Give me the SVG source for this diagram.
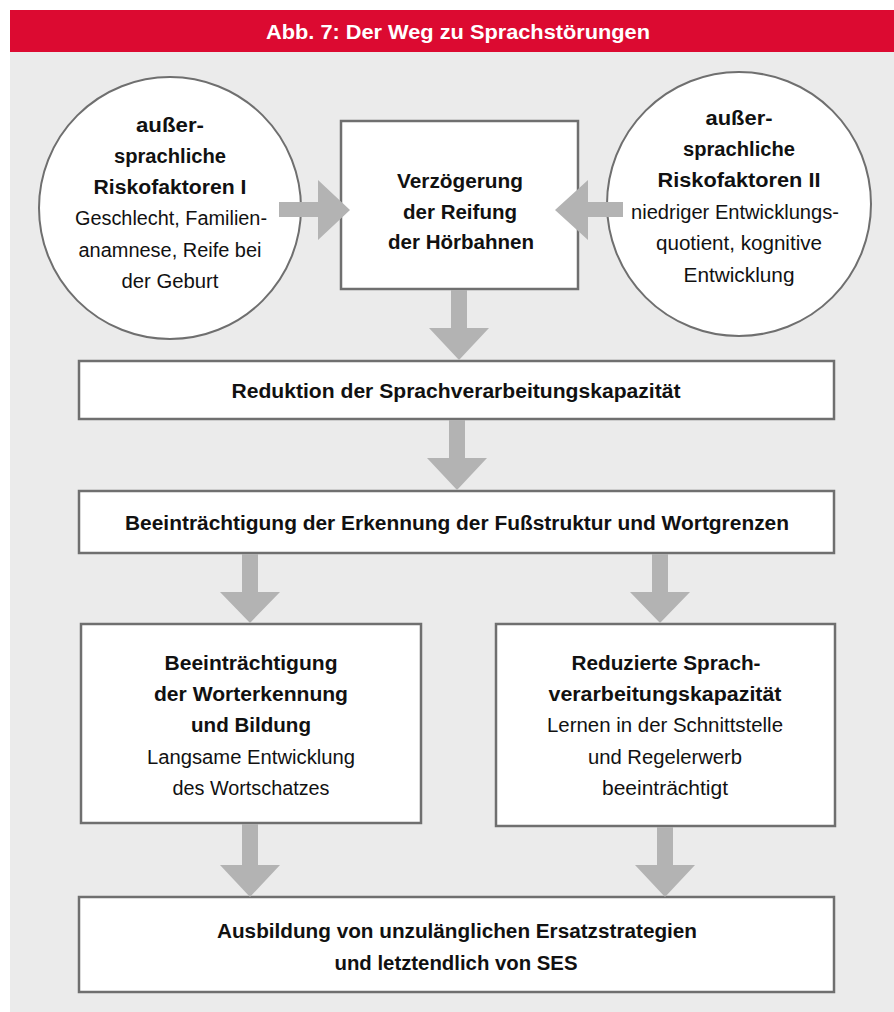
<svg xmlns="http://www.w3.org/2000/svg" width="894" height="1012" viewBox="0 0 894 1012">
<style>
.t{font-family:"Liberation Sans",Arial,sans-serif;font-size:20px;fill:#111;text-anchor:middle}
.b{font-weight:bold}
.box{fill:#fff;stroke:#6f6f6f;stroke-width:2.5}
.circ{fill:#fff;stroke:#6f6f6f;stroke-width:2}
.arr{fill:#b3b3b3;stroke:none}
</style>
<rect x="10" y="52" width="884" height="960" fill="#ebebeb"/>
<g id="header">
<rect x="10" y="10" width="884" height="42" fill="#dc0a31"/>
<text class="t b" x="458" y="39" style="fill:#fff" textLength="384" lengthAdjust="spacingAndGlyphs">Abb. 7: Der Weg zu Sprachstörungen</text>
</g>
<g id="risk1">
<circle class="circ" cx="170" cy="208" r="131"/>
<text class="t b" x="170" y="132" textLength="68" lengthAdjust="spacingAndGlyphs">außer-</text>
<text class="t b" x="170" y="163" textLength="112" lengthAdjust="spacingAndGlyphs">sprachliche</text>
<text class="t b" x="170" y="194" textLength="153" lengthAdjust="spacingAndGlyphs">Riskofaktoren I</text>
<text class="t" x="171" y="225" textLength="192" lengthAdjust="spacingAndGlyphs">Geschlecht, Familien-</text>
<text class="t" x="170" y="257" textLength="183" lengthAdjust="spacingAndGlyphs">anamnese, Reife bei</text>
<text class="t" x="170" y="288" textLength="97" lengthAdjust="spacingAndGlyphs">der Geburt</text>
</g>
<g id="delay">
<rect class="box" x="341" y="121" width="237" height="168"/>
<text class="t b" x="460" y="188" textLength="126" lengthAdjust="spacingAndGlyphs">Verzögerung</text>
<text class="t b" x="460" y="219" textLength="114" lengthAdjust="spacingAndGlyphs">der Reifung</text>
<text class="t b" x="461" y="249" textLength="146" lengthAdjust="spacingAndGlyphs">der Hörbahnen</text>
</g>
<g id="risk2">
<circle class="circ" cx="739" cy="204" r="132"/>
<text class="t b" x="739" y="125" textLength="67" lengthAdjust="spacingAndGlyphs">außer-</text>
<text class="t b" x="739" y="156" textLength="112" lengthAdjust="spacingAndGlyphs">sprachliche</text>
<text class="t b" x="739" y="187" textLength="163" lengthAdjust="spacingAndGlyphs">Riskofaktoren II</text>
<text class="t" x="735" y="219" textLength="208" lengthAdjust="spacingAndGlyphs">niedriger Entwicklungs-</text>
<text class="t" x="739" y="250" textLength="166" lengthAdjust="spacingAndGlyphs">quotient, kognitive</text>
<text class="t" x="739" y="282" textLength="111" lengthAdjust="spacingAndGlyphs">Entwicklung</text>
</g>
<g id="reduction">
<rect class="box" x="79" y="361" width="755" height="58"/>
<text class="t b" x="456" y="398" textLength="449" lengthAdjust="spacingAndGlyphs">Reduktion der Sprachverarbeitungskapazität</text>
</g>
<g id="recognition">
<rect class="box" x="79" y="491" width="755" height="62"/>
<text class="t b" x="457" y="530" textLength="664" lengthAdjust="spacingAndGlyphs">Beeinträchtigung der Erkennung der Fußstruktur und Wortgrenzen</text>
</g>
<g id="word">
<rect class="box" x="81" y="624" width="340" height="199"/>
<text class="t b" x="251" y="670" textLength="173" lengthAdjust="spacingAndGlyphs">Beeinträchtigung</text>
<text class="t b" x="251" y="701" textLength="194" lengthAdjust="spacingAndGlyphs">der Worterkennung</text>
<text class="t b" x="251" y="732" textLength="120" lengthAdjust="spacingAndGlyphs">und Bildung</text>
<text class="t" x="251" y="764" textLength="208" lengthAdjust="spacingAndGlyphs">Langsame Entwicklung</text>
<text class="t" x="251" y="795" textLength="157" lengthAdjust="spacingAndGlyphs">des Wortschatzes</text>
</g>
<g id="capacity">
<rect class="box" x="496" y="624" width="339" height="202"/>
<text class="t b" x="666" y="670" textLength="189" lengthAdjust="spacingAndGlyphs">Reduzierte Sprach-</text>
<text class="t b" x="665" y="701" textLength="233" lengthAdjust="spacingAndGlyphs">verarbeitungskapazität</text>
<text class="t" x="665" y="732" textLength="236" lengthAdjust="spacingAndGlyphs">Lernen in der Schnittstelle</text>
<text class="t" x="665" y="764" textLength="154" lengthAdjust="spacingAndGlyphs">und Regelerwerb</text>
<text class="t" x="665" y="795" textLength="126" lengthAdjust="spacingAndGlyphs">beeinträchtigt</text>
</g>
<g id="outcome">
<rect class="box" x="79" y="897" width="755" height="95"/>
<text class="t b" x="457" y="938" textLength="480" lengthAdjust="spacingAndGlyphs">Ausbildung von unzulänglichen Ersatzstrategien</text>
<text class="t b" x="456" y="970" textLength="243" lengthAdjust="spacingAndGlyphs">und letztendlich von SES</text>
</g>
<g id="connectors">
<polygon class="arr" points="279,202 318,202 318,180 350,210 318,240 318,217 279,217"/>
<polygon class="arr" points="623,202 588,202 588,180 555,210 588,240 588,217 623,217"/>
<polygon class="arr" points="451,290 467,290 467,328 489,328 459,360 429,328 451,328"/>
<polygon class="arr" points="449,420 465,420 465,458 487,458 457,490 427,458 449,458"/>
<polygon class="arr" points="242,554 258,554 258,592 280,592 250,623 220,592 242,592"/>
<polygon class="arr" points="652,554 668,554 668,592 690,592 660,623 630,592 652,592"/>
<polygon class="arr" points="242,824 258,824 258,865 280,865 250,897 220,865 242,865"/>
<polygon class="arr" points="657,827 673,827 673,865 695,865 665,897 635,865 657,865"/>
</g>
</svg>
